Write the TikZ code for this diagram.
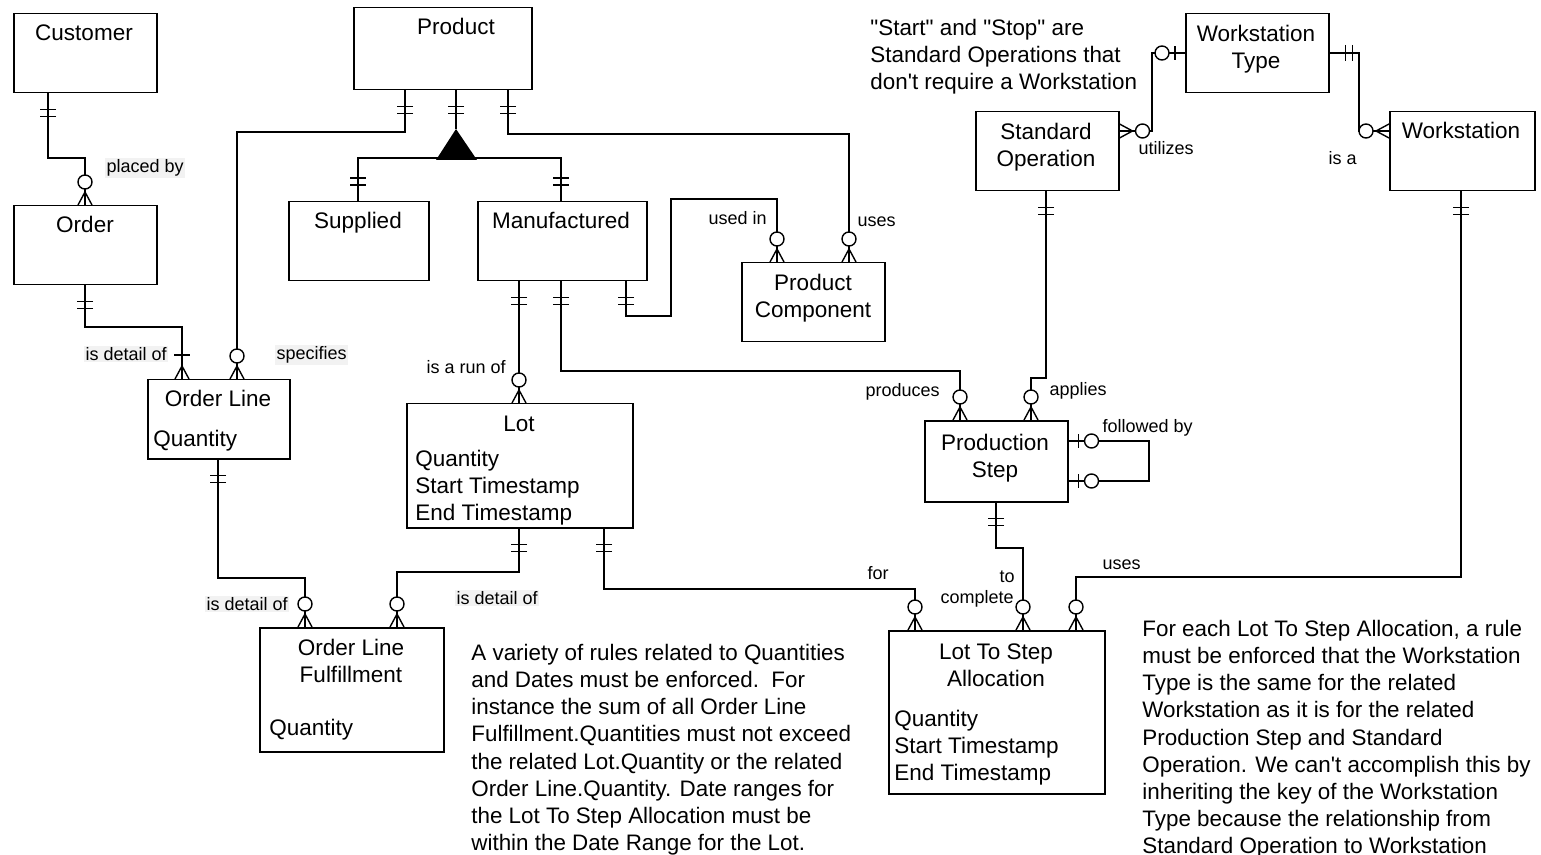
\documentclass[tikz,border=0pt]{standalone}
\usepackage{fontspec}
\setmainfont{Liberation Sans}[Ligatures=TeXOff]
\newcommand\entfont{\fontsize{11.25pt}{13.5pt}\selectfont}
\newcommand\lblfont{\fontsize{9pt}{11pt}\selectfont}
\newcommand\notefont{\fontsize{11.2pt}{13.55pt}\selectfont}
\newcommand\entity[5]{\node[box, minimum width={(#4-#2)*0.5pt}, minimum height={(#5-#3)*0.5pt}] (#1) at (#2,#3) {};}
\tikzset{
  box/.style={draw, line width=0.75pt, inner sep=0pt, anchor=north west},
  conn/.style={line width=0.7pt},
  ename/.style={font=\entfont, inner sep=0pt},
  lbl/.style={font=\lblfont, inner sep=0.6pt, anchor=west},
  lblbg/.style={lbl, fill=black!5},
  note/.style={font=\notefont, align=left, inner sep=0pt, anchor=north west},
  mand/.pic={\draw[line width=0.7pt] (16,-8)--(16,8) (23,-8)--(23,8);},
  zmany/.pic={\draw[line width=0.7pt] (0,-7)--(13,0)--(0,7); \draw[line width=0.7pt, fill=white] (23,0) circle[radius=7];},
  omany/.pic={\draw[line width=0.7pt] (0,-7)--(13,0)--(0,7); \draw[line width=0.7pt] (24,-8)--(24,8);},
  zone/.pic={\draw[line width=0.7pt] (10,-7)--(10,7); \draw[line width=0.7pt, fill=white] (23,0) circle[radius=7];},
}
\begin{document}
\begin{tikzpicture}[x=0.5pt,y=-0.5pt]
\useasboundingbox (0,0) rectangle (1541,855);
% entities
\entity{cust}{13}{13}{156}{92}
\entity{order}{13}{205}{156}{284}
\entity{prod}{353}{7}{531}{89}
\entity{supp}{288}{201}{428}{280}
\entity{manu}{477}{201}{646}{280}
\entity{pc}{741}{262}{884}{341}
\entity{ol}{147}{379}{289}{458}
\entity{lot}{406}{403}{632}{527}
\entity{olf}{259}{627}{443}{751}
\entity{so}{975}{111}{1118}{190}
\entity{wt}{1185}{13}{1328}{92}
\entity{ws}{1389}{111}{1534}{190}
\entity{ps}{924}{420}{1067}{501}
\entity{lsa}{888}{630}{1104}{793}
% entity texts
\node[ename, anchor=base] (custT) at (84,41) {Customer};
\node[ename, anchor=base] (orderT) at (85,233) {Order};
\node[ename, anchor=base] (prodT) at (456,35) {Product};
\node[ename, anchor=base] (suppT) at (358,229) {Supplied};
\node[ename, anchor=base] (manuT) at (561,229) {Manufactured};
\node[ename, anchor=north, align=center] (pcT) at (813,274) {Product\\Component};
\node[ename, anchor=base] (olT) at (218,407) {Order Line};
\node[ename, anchor=base west] (olA) at (153,446) {Quantity};
\node[ename, anchor=base] (lotT) at (519,431) {Lot};
\node[ename, anchor=north west, align=left] (lotA) at (415,450) {Quantity\\Start Timestamp\\End Timestamp};
\node[ename, anchor=north, align=center] (olfT) at (351,639) {Order Line\\Fulfillment};
\node[ename, anchor=base west] (olfA) at (269,735) {Quantity};
\node[ename, anchor=north, align=center] (soT) at (1046,123) {Standard\\Operation};
\node[ename, anchor=north, align=center] (wtT) at (1256,25) {Workstation\\Type};
\node[ename, anchor=base] (wsT) at (1461,139) {Workstation};
\node[ename, anchor=north, align=center] (psT) at (995,434) {Production\\Step};
\node[ename, anchor=north, align=center] (lsaT) at (996,643) {Lot To Step\\Allocation};
\node[ename, anchor=north west, align=left] (lsaA) at (894,710) {Quantity\\Start Timestamp\\End Timestamp};
% subtype triangle
\coordinate (tri) at (456,129);
\coordinate (trib) at (456,158);
\draw[conn] (supp.north -| 358,0) -- (358,158) -- (trib) -- (561,158) -- (manu.north -| 561,0);
\draw[conn] (prod.south -| 456,0) -- (tri);
\fill (tri) -- (436,160) -- (477,160) -- cycle;
\pic[rotate=-90] at (prod.south -| 456,0) {mand};
\pic[rotate=90] at (supp.north -| 358,0) {mand};
\pic[rotate=90] at (manu.north -| 561,0) {mand};
% connectors
\draw[conn] (cust.south -| 48,0) -- (48,158) -- (85,158) -- (order.north -| 85,0);
\pic[rotate=-90] at (cust.south -| 48,0) {mand};
\pic[rotate=90] at (order.north -| 85,0) {zmany};

\draw[conn] (order.south -| 85,0) -- (85,327) -- (182,327) -- (ol.north -| 182,0);
\pic[rotate=-90] at (order.south -| 85,0) {mand};
\pic[rotate=90] at (ol.north -| 182,0) {omany};

\draw[conn] (prod.south -| 405,0) -- (405,132) -- (237,132) -- (ol.north -| 237,0);
\pic[rotate=-90] at (prod.south -| 405,0) {mand};
\pic[rotate=90] at (ol.north -| 237,0) {zmany};

\draw[conn] (prod.south -| 508,0) -- (508,134) -- (849,134) -- (pc.north -| 849,0);
\pic[rotate=-90] at (prod.south -| 508,0) {mand};
\pic[rotate=90] at (pc.north -| 849,0) {zmany};

\draw[conn] (manu.south -| 626,0) -- (626,316) -- (671,316) -- (671,199) -- (777,199) -- (pc.north -| 777,0);
\pic[rotate=-90] at (manu.south -| 626,0) {mand};
\pic[rotate=90] at (pc.north -| 777,0) {zmany};

\draw[conn] (manu.south -| 519,0) -- (lot.north -| 519,0);
\pic[rotate=-90] at (manu.south -| 519,0) {mand};
\pic[rotate=90] at (lot.north -| 519,0) {zmany};

\draw[conn] (manu.south -| 561,0) -- (561,371) -- (960,371) -- (ps.north -| 960,0);
\pic[rotate=-90] at (manu.south -| 561,0) {mand};
\pic[rotate=90] at (ps.north -| 960,0) {zmany};

\draw[conn] (so.south -| 1046,0) -- (1046,378) -- (1031,378) -- (ps.north -| 1031,0);
\pic[rotate=-90] at (so.south -| 1046,0) {mand};
\pic[rotate=90] at (ps.north -| 1031,0) {zmany};

\draw[conn] (ps.east |- 0,441) -- (1149,441) -- (1149,481) -- (ps.east |- 0,481);
\pic at (ps.east |- 0,441) {zone};
\pic at (ps.east |- 0,481) {zone};

\draw[conn] (so.east |- 0,131) -- (1152,131) -- (1152,53) -- (wt.west |- 0,53);
\pic at (so.east |- 0,131) {zmany};
\pic[rotate=180] at (wt.west |- 0,53) {zone};

\draw[conn] (wt.east |- 0,53) -- (1359,53) -- (1359,131) -- (ws.west |- 0,131);
\pic at (wt.east |- 0,53) {mand};
\pic[rotate=180] at (ws.west |- 0,131) {zmany};

\draw[conn] (ws.south -| 1461,0) -- (1461,577) -- (1076,577) -- (lsa.north -| 1076,0);
\pic[rotate=-90] at (ws.south -| 1461,0) {mand};
\pic[rotate=90] at (lsa.north -| 1076,0) {zmany};

\draw[conn] (ps.south -| 996,0) -- (996,548) -- (1023,548) -- (lsa.north -| 1023,0);
\pic[rotate=-90] at (ps.south -| 996,0) {mand};
\pic[rotate=90] at (lsa.north -| 1023,0) {zmany};

\draw[conn] (lot.south -| 604,0) -- (604,589) -- (915,589) -- (lsa.north -| 915,0);
\pic[rotate=-90] at (lot.south -| 604,0) {mand};
\pic[rotate=90] at (lsa.north -| 915,0) {zmany};

\draw[conn] (lot.south -| 519,0) -- (519,572) -- (397,572) -- (olf.north -| 397,0);
\pic[rotate=-90] at (lot.south -| 519,0) {mand};
\pic[rotate=90] at (olf.north -| 397,0) {zmany};

\draw[conn] (ol.south -| 218,0) -- (218,578) -- (305,578) -- (olf.north -| 305,0);
\pic[rotate=-90] at (ol.south -| 218,0) {mand};
\pic[rotate=90] at (olf.north -| 305,0) {zmany};
% relationship labels
\node[lblbg] (l1) at (105,168) {placed by};
\node[lblbg] (l2) at (84,354) {is detail of};
\node[lblbg] (l3) at (275,355) {specifies};
\node[lbl] (l4) at (425,367) {is a run of};
\node[lbl] (l5) at (707,218) {used in};
\node[lbl] (l6) at (856,222) {uses};
\node[lbl] (l7) at (864,392) {produces};
\node[lbl] (l8) at (1048,391) {applies};
\node[lbl] (l9) at (1101,428) {followed by};
\node[lbl] (l10) at (1137,148) {utilizes};
\node[lbl] (l11) at (1327,158) {is a};
\node[lbl] (l12) at (1101,565) {uses};
\node[lbl] (l13) at (866,573) {for};
\node[lbl] (l14) at (998,577) {to};
\node[lbl] (l15) at (939,599) {complete};
\node[lblbg] (l16) at (205,604) {is detail of};
\node[lblbg] (l17) at (455,598) {is detail of};
% notes
\node[note] (n1) at (870,19) {"Start" and "Stop" are\\Standard Operations that\\don't require a Workstation};
\node[note] (n2) at (471,644) {A variety of rules related to Quantities\\and Dates must be enforced.\ \ For\\instance the sum of all Order Line\\Fulfillment.Quantities must not exceed\\the related Lot.Quantity or the related\\Order Line.Quantity. Date ranges for\\the Lot To Step Allocation must be\\within the Date Range for the Lot.};
\node[note] (n3) at (1142,620) {For each Lot To Step Allocation, a rule\\must be enforced that the Workstation\\Type is the same for the related\\Workstation as it is for the related\\Production Step and Standard\\Operation. We can't accomplish this by\\inheriting the key of the Workstation\\Type because the relationship from\\Standard Operation to Workstation};
\end{tikzpicture}
\end{document}
